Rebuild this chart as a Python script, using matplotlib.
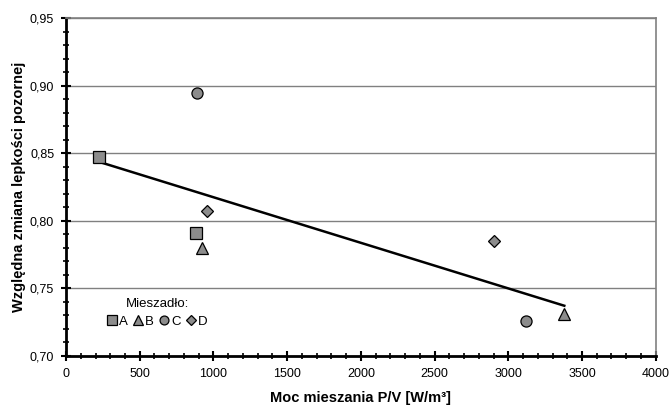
import matplotlib
matplotlib.use('Agg')
import matplotlib.pyplot as plt
from matplotlib.ticker import MultipleLocator, FuncFormatter
import numpy as np

plt.rcParams['font.family'] = ['Liberation Sans', 'DejaVu Sans']

# mixer type -> (P/V, relative apparent viscosity change)
mixers  = ['A', 'B', 'C', 'D']
a_x = [222, 884];   a_y = [0.847, 0.791]
b_x = [925, 3380];  b_y = [0.780, 0.731]
c_x = [890, 3122];  c_y = [0.895, 0.726]
d_x = [954, 2905];  d_y = [0.807, 0.785]

MARK = {'A': 's', 'B': '^', 'C': 'o', 'D': 'D'}
MSIZE = {'A': 8.5, 'B': 9, 'C': 8, 'D': 6.5}
FACE = '#8c8c8c'

fig = plt.figure(figsize=(6.71, 4.08), dpi=100, facecolor='white')
ax = fig.add_axes([0.0984, 0.1275, 0.8788, 0.8276])

series = {'A': (a_x, a_y), 'B': (b_x, b_y), 'C': (c_x, c_y), 'D': (d_x, d_y)}
for m in mixers:
    xs, ys = series[m]
    ax.plot(xs, ys, ls='none', marker=MARK[m], ms=MSIZE[m],
            mfc=FACE, mec='black', mew=0.9, label=m, zorder=4)

# linear trend over all points
all_x = np.array(a_x + b_x + c_x + d_x, dtype=float)
all_y = np.array(a_y + b_y + c_y + d_y)
k, b = np.polyfit(all_x, all_y, 1)
tx = np.array([all_x.min(), all_x.max()])
ax.plot(tx, k * tx + b, color='black', lw=1.8, zorder=3)

ax.set_xlim(0, 4000)
ax.set_ylim(0.70, 0.95)
ax.xaxis.set_major_locator(MultipleLocator(500))
ax.xaxis.set_minor_locator(MultipleLocator(100))
ax.yaxis.set_major_locator(MultipleLocator(0.05))
ax.yaxis.set_minor_locator(MultipleLocator(0.01))
ax.yaxis.set_major_formatter(FuncFormatter(lambda v, p: f'{v:.2f}'.replace('.', ',')))
ax.grid(axis='y', which='major', color='#808080', lw=1.0, zorder=0)

for s in ['left', 'bottom']:
    ax.spines[s].set_linewidth(2.0)
    ax.spines[s].set_color('black')
for s in ['top', 'right']:
    ax.spines[s].set_linewidth(1.2)
    ax.spines[s].set_color('#808080')

ax.tick_params(which='major', direction='inout', length=7, width=1.5,
               labelsize=9, color='black', pad=5)
ax.tick_params(which='minor', direction='inout', length=4, width=1.2, color='black')
ax.tick_params(top=False, right=False, which='both')

ax.set_xlabel('Moc mieszania P/V [W/m³]', fontsize=10.5, fontweight='bold', labelpad=8)
ax.set_ylabel('Względna zmiana lepkości pozornej', fontsize=10.5, fontweight='bold', labelpad=3)

leg = ax.legend(title='Mieszadło:', ncol=4, frameon=False, loc='center',
                bbox_to_anchor=(0.155, 0.125), fontsize=9.5, title_fontsize=9.5,
                markerscale=0.8, handlelength=0.7, handletextpad=0.15,
                columnspacing=0.45, labelspacing=0.3)
leg.get_title().set_position((0, 2))

fig.savefig('out.png', dpi=100, facecolor='white')
